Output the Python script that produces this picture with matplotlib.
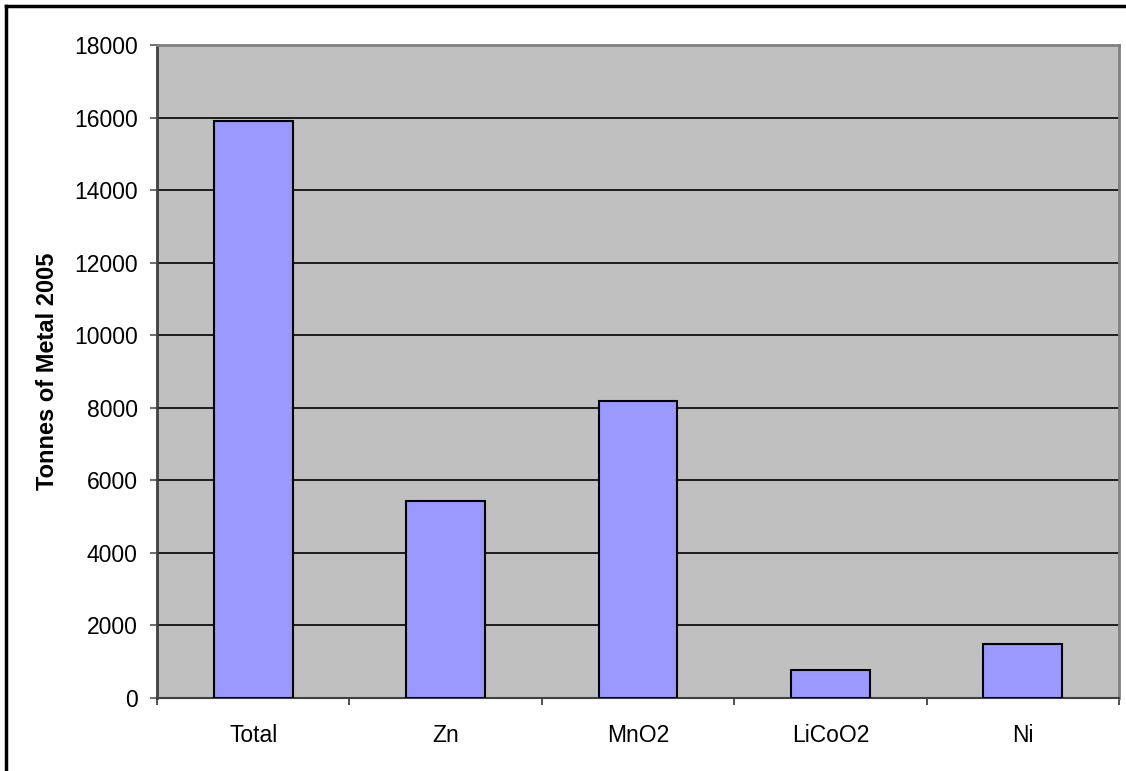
import matplotlib
matplotlib.use("Agg")
import matplotlib.pyplot as plt
from matplotlib.lines import Line2D

categories = ["Total", "Zn", "MnO2", "LiCoO2", "Ni"]
values = [15900, 5430, 8200, 775, 1495]
yticks = [0, 2000, 4000, 6000, 8000, 10000, 12000, 14000, 16000, 18000]
ylabel = "Tonnes of Metal 2005"

plt.rcParams['font.family'] = ['Liberation Sans', 'DejaVu Sans']

W, H = 1126, 771
fig = plt.figure(figsize=(W / 100, H / 100), dpi=100)
fig.patch.set_facecolor("white")

ax = fig.add_axes([157 / W, 1 - 698 / H, (1119 - 157) / W, (698 - 45) / H])
ax.set_facecolor("#C0C0C0")

x = list(range(len(categories)))
ax.bar(x, values, width=0.41, color="#9999FF", edgecolor="black", linewidth=1.5, zorder=3)

ax.set_xlim(-0.5, len(categories) - 0.5)
ax.set_ylim(0, 18000)
ax.set_yticks(yticks)
ax.set_yticklabels([str(t) for t in yticks], fontsize=16.5)
ax.yaxis.grid(True, color="black", linewidth=1.2, zorder=1)
ax.set_axisbelow(True)

# x ticks at category boundaries, labels centered
ax.set_xticks([i + 0.5 for i in range(-1, len(categories))], minor=False)
ax.set_xticklabels([])
ax.set_xticks(x, minor=True)
ax.set_xticklabels(categories, minor=True, fontsize=16.5)
ax.tick_params(axis="x", which="minor", length=0, pad=19)
ax.tick_params(axis="x", which="major", length=5, width=1.2, direction="out", color="#333333")
ax.tick_params(axis="y", length=5, width=1.2, direction="out", color="#555555", pad=9)

ax.set_ylabel(ylabel, fontsize=17, fontweight="bold", labelpad=11)

for s in ["top", "right"]:
    ax.spines[s].set_color("#808080")
    ax.spines[s].set_linewidth(2)
ax.spines["left"].set_color("#404040")
ax.spines["left"].set_linewidth(2)
ax.spines["bottom"].set_color("#404040")
ax.spines["bottom"].set_linewidth(1.5)

# outer chart frame (left and top edges visible)
fig.add_artist(Line2D([6 / W, 6 / W], [0, 1 - 6 / H], transform=fig.transFigure, color="black", linewidth=2.5))
fig.add_artist(Line2D([6 / W, 1], [1 - 6 / H, 1 - 6 / H], transform=fig.transFigure, color="black", linewidth=2.5))

fig.savefig("out.png", dpi=100)
